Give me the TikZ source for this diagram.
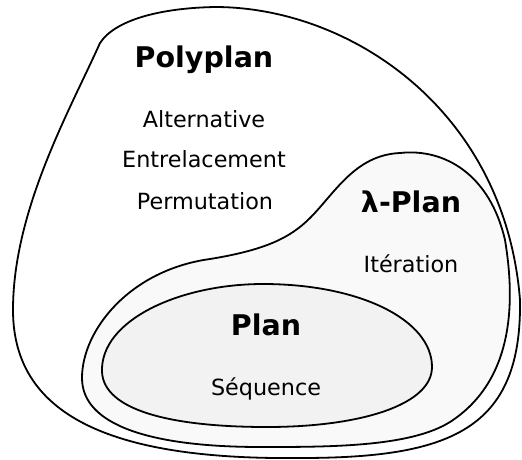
\documentclass[tikz,border=0pt]{standalone}
\usepackage{fontspec}
\setmainfont{DejaVu Sans}
\begin{document}
\begin{tikzpicture}[x=1pt,y=-1pt,
  shapeline/.style={draw=black,line width=1.8pt},
  titletxt/.style={anchor=base,inner sep=0pt,font=\fontsize{28.5}{33}\selectfont\bfseries},
  itemtxt/.style={anchor=base,inner sep=0pt,font=\fontsize{22.3}{27}\selectfont}]
\useasboundingbox (0,0) rectangle (522,459);
% Polyplan
\path[shapeline,fill=white] (100,43)
  .. controls (115,20) and (160,8) .. (215,7)
  .. controls (350,7) and (505,110) .. (520,300)
  .. controls (522,430) and (450,458) .. (300,458)
  .. controls (120,460) and (13,420) .. (13,310)
  .. controls (13,210) and (70,110) .. (100,43) -- cycle;
% lambda-Plan
\path[shapeline,fill={rgb,255:red,249;green,249;blue,249}] (400,153)
  .. controls (445,148) and (490,175) .. (505,240)
  .. controls (515,300) and (515,380) .. (450,422)
  .. controls (410,447) and (330,447) .. (261,447)
  .. controls (150,447) and (82,425) .. (82,378)
  .. controls (82,330) and (130,270) .. (210,259)
  .. controls (265,250) and (290,238) .. (310,218)
  .. controls (335,193) and (355,155) .. (400,153) -- cycle;
% Plan
\path[shapeline,fill={rgb,255:red,242;green,242;blue,242}] (102,372)
  .. controls (100,320) and (180,284) .. (263,284)
  .. controls (360,284) and (432,320) .. (432,367)
  .. controls (432,405) and (360,427) .. (267,427)
  .. controls (170,427) and (104,410) .. (102,372) -- cycle;
% texts
\node[titletxt] (poly) at (204,67) {Polyplan};
\node[itemtxt] (alt) at (204,127) {Alternative};
\node[itemtxt] (entre) at (204,167.5) {Entrelacement};
\node[itemtxt] (perm) at (205,209) {Permutation};
\node[titletxt] (lplan) at (411,212.5) {λ-Plan};
\node[itemtxt] (iter) at (411,272) {Itération};
\node[titletxt] (plan) at (266,335) {Plan};
\node[itemtxt] (seq) at (266,395.5) {Séquence};
\end{tikzpicture}
\end{document}
